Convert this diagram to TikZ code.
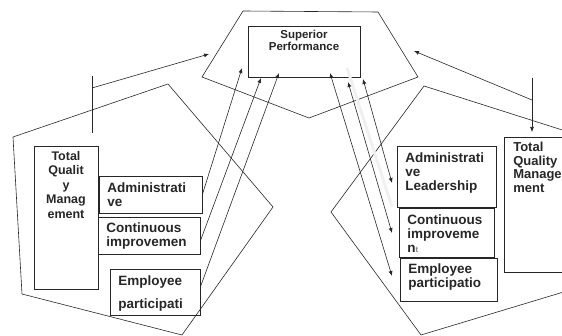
\documentclass[tikz,border=0pt]{standalone}
\usepackage{fontspec}
\setmainfont{Liberation Sans}
\usetikzlibrary{arrows.meta,positioning}

\tikzset{
  box/.style={draw, anchor=north west, inner sep=0pt},
  txt/.style={anchor=north west, inner sep=0pt, align=left, font=\bfseries\fontsize{13.5}{14}\selectfont},
  tip/.style={-{Latex[length=5pt,width=4pt]}},
  both/.style={{Latex[length=5pt,width=4pt]}-{Latex[length=5pt,width=4pt]}},
}

\begin{document}
\begin{tikzpicture}[x=1pt,y=-1pt,line width=0.6pt,color=black!85]
    \useasboundingbox (0,0) rectangle (562,336);
    \clip (0,0) rectangle (562,336);

    % the three frames
    \draw (243,11) -- (378,12) -- (418,77) -- (309,118) -- (202,77) -- cycle;
    \draw (168,84) -- (273,207) -- (182,335) -- (22,294) -- (13,137) -- cycle;
    \draw (424,86) -- (600,142) -- (600,281) -- (421,335) -- (331,212) -- cycle;

    % boxes
    \node[box, minimum width=112, minimum height=51] (sup) at (248,26) {};
    \node[box, minimum width=64, minimum height=143] (tqmL) at (34,146) {};
    \node[box, minimum width=103, minimum height=37] (admL) at (99,176) {};
    \node[box, minimum width=102, minimum height=37] (contL) at (98,217) {};
    \node[box, minimum width=90, minimum height=46] (empL) at (110,269) {};
    \node[box, minimum width=99, minimum height=61] (admR) at (397,146) {};
    \node[box, minimum width=95, minimum height=49] (contR) at (399,208) {};
    \node[box, minimum width=97, minimum height=43] (empR) at (400,258) {};
    \node[box, minimum width=80, minimum height=135] (tqmR) at (504,137) {};

    % texts
    \node[txt, anchor=north, align=center, font=\bfseries\fontsize{11.5}{12}\selectfont] (supt) at (304,30) {Superior\\Performance};
    \node[txt, anchor=north, align=center, font=\bfseries\fontsize{12.5}{14.5}\selectfont] (tqmLt) at (66,151) {Total\\Qualit\\y\\Manag\\ement};
    \node[txt] (admLt) at (107,182) {Administrati\\ve};
    \node[txt] (contLt) at (106,222) {Continuous\\improvemen};
    \node[txt] (empLt) at (118,275) {Employee\\[9pt]participati};
    \node[txt] (admRt) at (405,152) {Administrati\\ve\\Leadership};
    \node[txt] (contRt) at (407,214) {Continuous\\improveme\\n{\fontsize{8}{8}\selectfont\color{black!50}t}};
    \node[txt] (empRt) at (408,263) {Employee\\participatio};
    \node[txt, font=\bfseries\fontsize{13}{13.5}\selectfont] (tqmRt) at (513,142) {Total\\Quality\\Manage\\ment};

    % outer arrows
    \coordinate (tickTop) at (92,76);
    \coordinate (tickBot) at (92,133);
    \coordinate (tickArr) at (92,88);
    \coordinate (frameL) at (209,54);
    \draw (tickTop) -- (tickBot);
    \draw[tip] (tickArr) -- (frameL);

    \coordinate (vTop) at (532,78);
    \coordinate (vBot) at (532,132);
    \coordinate (vMid) at (532,100);
    \coordinate (frameR) at (414,51);
    \draw[tip] (vTop) -- (vBot);
    \draw[tip] (vMid) -- (frameR);

    % arrows to Superior Performance
    \coordinate (s1) at (242,68);
    \coordinate (s2) at (261,78);
    \coordinate (s3) at (279,73);
    \draw[tip] ([yshift=1pt]admL.east) -- (s1);
    \draw[tip] ([yshift=-4.5pt]contL.east) -- (s2);
    \draw[tip] ([yshift=6pt]empL.east) -- (s3);

    \draw[gray!12, line width=3pt] (347,68) -- (392,207);
    \coordinate (r1) at (330,73);
    \coordinate (r2) at (348,82);
    \coordinate (r3) at (363,79);
    \coordinate (e1) at (392,276);
    \coordinate (e2) at (392,233);
    \coordinate (e3) at (392,183);
    \draw[both] (r1) -- (e1);
    \draw[both] (r2) -- (e2);
    \draw[both] (r3) -- (e3);
\end{tikzpicture}
\end{document}
